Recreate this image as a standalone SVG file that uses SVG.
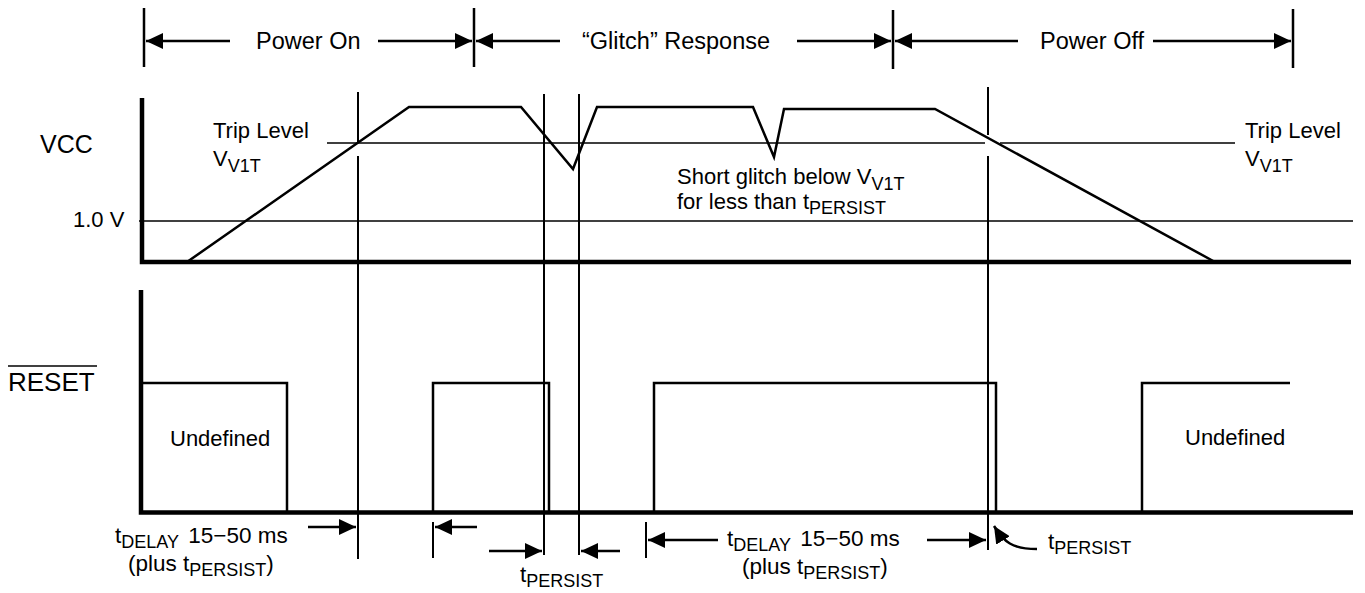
<svg xmlns="http://www.w3.org/2000/svg" width="1365" height="593" viewBox="0 0 1365 593">
<style>
text{font-family:"Liberation Sans",Arial,sans-serif;fill:#000}
.hd{font-size:23.5px}
.lb{font-size:22px}
.tl{font-size:22.5px}
.sb{font-size:18px}
.ax{stroke:#000;stroke-width:4.5;fill:none}
.wv{stroke:#000;stroke-width:2.5;fill:none}
.gd{stroke:#000;stroke-width:2;fill:none}
.th{stroke:#000;stroke-width:1.5;fill:none}
.ar{stroke:#000;stroke-width:2.5;fill:none;marker-end:url(#ah)}
</style>
<defs>
<marker id="ah" viewBox="0 0 17 16" refX="17" refY="8" markerWidth="17" markerHeight="16" orient="auto" markerUnits="userSpaceOnUse"><path d="M0,0 L17,8 L0,16 z" fill="#000"/></marker>
</defs>
<rect width="1365" height="593" fill="#fff"/>

<g id="phases">
<path class="wv" d="M144,8 V67 M474,8 V67 M893,10 V69 M1293,9 V68"/>
<text class="hd" x="256" y="49">Power On</text>
<text class="hd" x="582" y="49">“Glitch” Response</text>
<text class="hd" x="1040" y="49">Power Off</text>
</g>

<g id="vcc-axis">
<path class="ax" d="M142,98 V262 H1351"/>
<path class="th" d="M139,221 H1353"/>
<path class="th" d="M327,143 H985 M1000,143 H1235"/>
<text x="40" y="153" style="font-size:25px">VCC</text>
<text class="lb" x="73" y="227">1.0 V</text>
<text class="lb" x="213" y="138">Trip Level</text>
<text class="lb" x="213" y="166">V<tspan class="sb" dy="6">V1T</tspan></text>
<text class="lb" x="1245" y="138">Trip Level</text>
<text class="lb" x="1245" y="166">V<tspan class="sb" dy="6">V1T</tspan></text>
</g>

<g id="vcc-wave">
<path class="wv" d="M187,262 L409,107 L521,107 L573,169 L597,107 L753,107 L774,157 L784,109 L935,109 L1215,262"/>
<text class="lb" x="677" y="184">Short glitch below V<tspan class="sb" dy="6">V1T</tspan></text>
<text class="lb" x="677" y="209">for less than t<tspan class="sb" dy="5">PERSIST</tspan></text>
</g>

<g id="reset-axis">
<path class="ax" d="M141,290 V512.5 H1353"/>
<text x="8" y="391" style="font-size:26px">RESET</text>
<path class="th" d="M8,366 H97"/>
</g>

<g id="reset-wave">
<path class="wv" d="M142,383 H287 V512"/>
<path class="wv" d="M433,512 V383 H549 V512"/>
<path class="wv" d="M654,512 V383 H996 V512"/>
<path class="wv" d="M1142,512 V383 H1290"/>
<text class="lb" x="170" y="446">Undefined</text>
<text class="lb" x="1185" y="445">Undefined</text>
</g>

<g id="guides">
<path class="gd" d="M358,92 V143 M358,156 V559"/>
<path class="gd" d="M544,94 V555"/>
<path class="gd" d="M579,94 V555"/>
<path class="gd" d="M988,87 V135 M988,156 V550"/>
<path class="gd" d="M433,522 V558 M646,522 V558"/>
</g>

<g id="connectors">
<line class="ar" x1="230" y1="41" x2="146" y2="41"/>
<line class="ar" x1="378" y1="41" x2="472" y2="41"/>
<line class="ar" x1="560" y1="41" x2="476" y2="41"/>
<line class="ar" x1="797" y1="41" x2="891" y2="41"/>
<line class="ar" x1="1018" y1="41" x2="895" y2="41"/>
<line class="ar" x1="1153" y1="41" x2="1291" y2="41"/>
<line class="ar" x1="308" y1="527" x2="356" y2="527"/>
<line class="ar" x1="477" y1="527" x2="435" y2="527"/>
<line class="ar" x1="489" y1="551" x2="542" y2="551"/>
<line class="ar" x1="620" y1="551" x2="581" y2="551"/>
<line class="ar" x1="718" y1="540" x2="648" y2="540"/>
<line class="ar" x1="927" y1="540" x2="986" y2="540"/>
<path class="ar" d="M1037,549 C1012,549 1004,542 994,526"/>
</g>

<g id="timing-labels">
<text class="tl" x="115" y="543">t<tspan class="sb" dy="5">DELAY</tspan><tspan dy="-5" dx="3"> 15−50 ms</tspan></text>
<text class="tl" x="128" y="571">(plus t<tspan class="sb" dy="5">PERSIST</tspan><tspan dy="-5">)</tspan></text>
<text class="tl" x="520" y="582">t<tspan class="sb" dy="5">PERSIST</tspan></text>
<text class="tl" x="727" y="546">t<tspan class="sb" dy="5">DELAY</tspan><tspan dy="-5" dx="3"> 15−50 ms</tspan></text>
<text class="tl" x="742" y="574">(plus t<tspan class="sb" dy="5">PERSIST</tspan><tspan dy="-5">)</tspan></text>
<text class="tl" x="1048" y="549">t<tspan class="sb" dy="5">PERSIST</tspan></text>
</g>
</svg>
